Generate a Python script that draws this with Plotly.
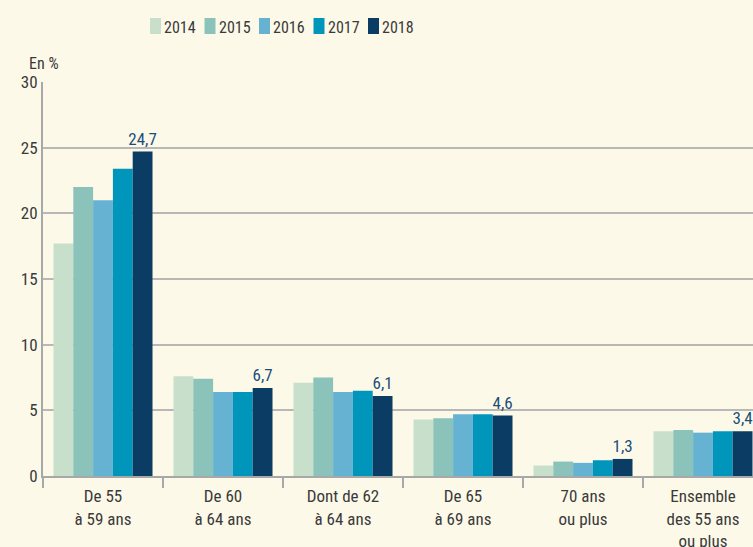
import plotly.graph_objects as go

categories = ["De 55<br>à 59 ans", "De 60<br>à 64 ans", "Dont de 62<br>à 64 ans",
              "De 65<br>à 69 ans", "70 ans<br>ou plus", "Ensemble<br>des 55 ans<br>ou plus"]
years = ["2014", "2015", "2016", "2017", "2018"]
v2014 = [17.7, 7.6, 7.1, 4.3, 0.8, 3.4]
v2015 = [22.0, 7.4, 7.5, 4.4, 1.1, 3.5]
v2016 = [21.0, 6.4, 6.4, 4.7, 1.0, 3.3]
v2017 = [23.4, 6.4, 6.5, 4.7, 1.2, 3.4]
v2018 = [24.7, 6.7, 6.1, 4.6, 1.3, 3.4]
series = [v2014, v2015, v2016, v2017, v2018]
colors = ["#c7dfcb", "#8bc2b9", "#66b2d3", "#0095bb", "#0a3c64"]

FONT = "Liberation Sans Narrow, Roboto Condensed, Arial Narrow, sans-serif"
TXT = "#3a3a3a"
BG = "#fdf9e9"

# plot area in pixels (for legend placement in paper coordinates)
L, R, T, B = 43, 753, 82, 476
def px_x(px):
    return (px - L) / (R - L)
def px_y(py):
    return (B - py) / (B - T)

fig = go.Figure()
for y, vals, c in zip(years, series, colors):
    kw = {}
    if y == "2018":
        kw = dict(text=[f"{v:.1f}".replace(".", ",") for v in vals], textposition="outside",
                  textfont=dict(color="#1b4f7a", size=17, family=FONT), cliponaxis=False,
                  constraintext="none")
    fig.add_trace(go.Bar(x=categories, y=vals, name=y, showlegend=False,
                         marker=dict(color=c, line=dict(width=0)), **kw))

# manual legend (swatch + label) built from the years list
shapes = []
annotations = []
for i, (y, c) in enumerate(zip(years, colors)):
    x0 = 150 + i * 54.5
    shapes.append(dict(type="rect", xref="paper", yref="paper",
                       x0=px_x(x0), x1=px_x(x0 + 11), y0=px_y(34), y1=px_y(18),
                       fillcolor=c, line=dict(width=0)))
    annotations.append(dict(text=y, xref="paper", yref="paper", x=px_x(x0 + 12), y=px_y(27),
                            xanchor="left", yanchor="middle", showarrow=False,
                            font=dict(size=16, color=TXT, family=FONT)))

annotations.append(dict(text="En %", x=px_x(27), xref="paper", y=1.0, yref="paper", yshift=7,
                        xanchor="left", yanchor="bottom", showarrow=False,
                        font=dict(size=16, color=TXT, family=FONT)))

fig.update_layout(
    width=753, height=547,
    paper_bgcolor=BG, plot_bgcolor=BG,
    margin=dict(l=L, r=753 - R, t=T, b=547 - B, autoexpand=False),
    barmode="group", bargap=0.175, bargroupgap=0,
    font=dict(family=FONT, size=17, color=TXT),
    showlegend=False,
    separators=", ",
    shapes=shapes, annotations=annotations,
)
fig.update_xaxes(range=[-0.5, 5.4167], showline=True, linecolor="#a8a8a8", linewidth=2,
                 ticks="outside", tickson="boundaries", ticklen=10, tickcolor="#a8a8a8", tickwidth=2,
                 showgrid=False, tickfont=dict(size=17, color=TXT), automargin=False,
                 ticklabelstandoff=4)
fig.update_yaxes(range=[0, 30], dtick=5, showline=True, linecolor="#a8a8a8", linewidth=2,
                 showgrid=True, gridcolor="#b8b8b8", gridwidth=2, zeroline=False,
                 ticks="", tickfont=dict(size=17, color=TXT), automargin=False)
post = ("document.body.style.margin='0';document.body.style.padding='0';"
        "document.body.style.overflow='hidden';document.body.style.background='%s';" % BG)
fig.write_html("out.html", post_script=post, config={"displayModeBar": False})
